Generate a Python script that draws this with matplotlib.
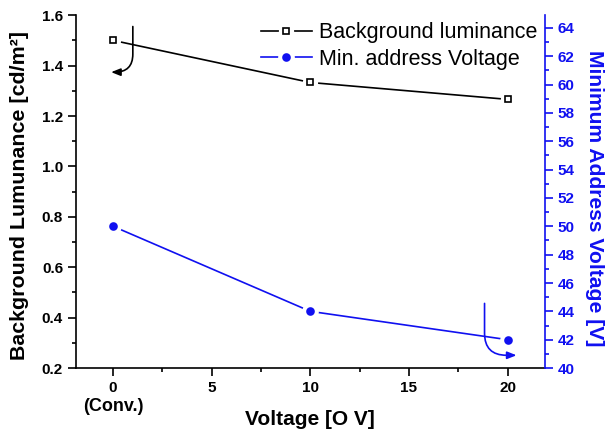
"""Background luminance and minimum address voltage versus applied voltage."""

import matplotlib

matplotlib.use("Agg")

import matplotlib.pyplot as plt
from matplotlib.ticker import MultipleLocator

plt.rcParams["font.family"] = ["Liberation Sans", "DejaVu Sans"]

VOLTAGE = [0, 10, 20]
LUMINANCE = [1.50, 1.333, 1.266]
MIN_ADDRESS_V = [50.0, 44.0, 42.0]
X_TICKS = [0, 5, 10, 15, 20]
X_TICK_LABELS = ["0", "5", "10", "15", "20"]

BLUE = "#1010f0"


def gapped_line(ax, x, y, color, marker, size, face, label):
    """Origin-style line: a small white gap around every marker."""
    styles = [
        dict(color=color, linewidth=1.2),
        dict(linestyle="none", marker="o", markersize=size + 6,
             markerfacecolor="white", markeredgecolor="white"),
        dict(linestyle="none", marker=marker, markersize=size,
             markerfacecolor=face, markeredgecolor=color, markeredgewidth=1.2),
    ]
    handles = []
    for z, st in enumerate(styles, start=2):
        ax.plot(x, y, zorder=z, **st)
        handles.append(plt.Line2D([], [], **st))
    return tuple(handles), label


fig = plt.figure(figsize=(6.05, 4.34), dpi=100)
ax = fig.add_axes([0.125, 0.152, 0.776, 0.813])
ax2 = ax.twinx()

h1, l1 = gapped_line(ax, VOLTAGE, LUMINANCE, "black", "s", 4, "white",
                     "Background luminance")
h2, l2 = gapped_line(ax2, VOLTAGE, MIN_ADDRESS_V, BLUE, "o", 5, BLUE,
                     "Min. address Voltage")

ax.set_xlim(-1.9, 21.9)
ax.set_ylim(0.2, 1.6)
ax2.set_ylim(40, 64.9)

ax.set_xticks(X_TICKS)
ax.set_xticklabels(X_TICK_LABELS)
ax.xaxis.set_minor_locator(MultipleLocator(2.5))
ax.yaxis.set_major_locator(MultipleLocator(0.2))
ax.yaxis.set_minor_locator(MultipleLocator(0.1))
ax2.yaxis.set_major_locator(MultipleLocator(2))
ax2.yaxis.set_minor_locator(MultipleLocator(1))

for a in (ax, ax2):
    a.spines["top"].set_visible(False)
    for sp in a.spines.values():
        sp.set_linewidth(1.2)
    a.tick_params(which="major", direction="out", length=6, width=1.2,
                  labelsize=11, pad=3)
    a.tick_params(which="minor", direction="out", length=3, width=1.2)
    for lab in a.get_xticklabels() + a.get_yticklabels():
        lab.set_fontweight("bold")

ax2.spines["left"].set_visible(False)
ax2.spines["bottom"].set_visible(False)
ax2.spines["right"].set_color(BLUE)
ax2.tick_params(axis="y", which="both", colors=BLUE)
ax.spines["right"].set_visible(False)

# the conventional driving case sits under the 0 tick
ax.annotate("(Conv.)", xy=(VOLTAGE[0], 0), xycoords=("data", "axes fraction"),
            xytext=(0, -28), textcoords="offset points", ha="center",
            va="center", fontsize=13, fontweight="bold")

ax.set_xlabel("Voltage [O V]", fontsize=15, fontweight="bold")
ax.xaxis.set_label_coords(0.5, -0.12)
ax.set_ylabel("Background Lumunance [cd/m\u00b2]", fontsize=15.4,
              fontweight="bold")
ax.yaxis.set_label_coords(-0.1, 0.49)
ax2.set_ylabel("Minimum Address Voltage [V]", fontsize=15.2,
               fontweight="bold", color=BLUE, rotation=270, va="bottom")
ax2.yaxis.set_label_coords(1.085, 0.48)

ax2.legend([h1, h2], [l1, l2], loc="upper right", frameon=False,
           fontsize=15.5, handlelength=2.4, handletextpad=0.3,
           borderaxespad=0.0, borderpad=0.0, labelspacing=0.25,
           bbox_to_anchor=(0.983, 0.98))

# hand-drawn arrows telling which axis each curve belongs to
ax.annotate("", xy=(-0.1, 1.374), xytext=(1.0, 1.555),
            arrowprops=dict(arrowstyle="-|>,head_length=0.55,head_width=0.22",
                            color="black", linewidth=1.2, shrinkA=0, shrinkB=0,
                            connectionstyle="angle,angleA=90,angleB=0,rad=18"))
ax2.annotate("", xy=(20.45, 40.9), xytext=(18.83, 44.56),
             arrowprops=dict(arrowstyle="-|>,head_length=0.55,head_width=0.22",
                             color=BLUE, linewidth=1.2, shrinkA=0, shrinkB=0,
                             connectionstyle="angle,angleA=90,angleB=0,rad=22"))

fig.savefig("out.png", dpi=100)
